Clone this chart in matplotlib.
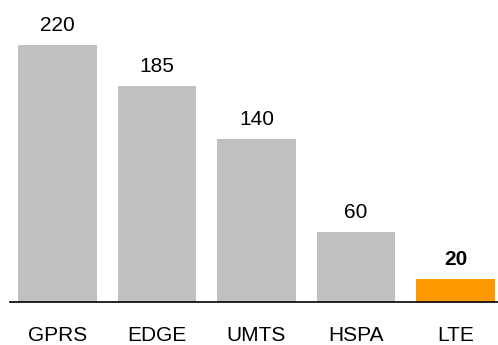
import matplotlib
matplotlib.use("Agg")
import matplotlib.pyplot as plt

categories = ["GPRS", "EDGE", "UMTS", "HSPA", "LTE"]
values = [220, 185, 140, 60, 20]
colors = ["#C0C0C0", "#C0C0C0", "#C0C0C0", "#C0C0C0", "#FF9900"]
bold = [False, False, False, False, True]

plt.rcParams['font.family'] = ['Liberation Sans', 'DejaVu Sans']

fig = plt.figure(figsize=(4.98, 3.45), dpi=100)
ax = fig.add_axes([10/498, 43/345, 488/498, 302/345])
x = list(range(len(categories)))
ax.bar(x, values, width=0.79, color=colors, zorder=2)
ax.set_xlim(-0.477, 4.427)
ax.set_ylim(0, 258.6)
for xi, v, b in zip(x, values, bold):
    ax.annotate(str(v), (xi, v), xytext=(0, 7), textcoords="offset points",
                ha="center", va="bottom", fontsize=15,
                fontweight="bold" if b else "normal")
for s in ["top", "right", "left"]:
    ax.spines[s].set_visible(False)
ax.spines["bottom"].set_linewidth(1.2)
ax.spines["bottom"].set_color("black")
ax.set_yticks([])
ax.set_xticks(x)
ax.set_xticklabels(categories, fontsize=15)
ax.tick_params(axis="x", length=0, pad=17)
fig.savefig("out.png", dpi=100)
